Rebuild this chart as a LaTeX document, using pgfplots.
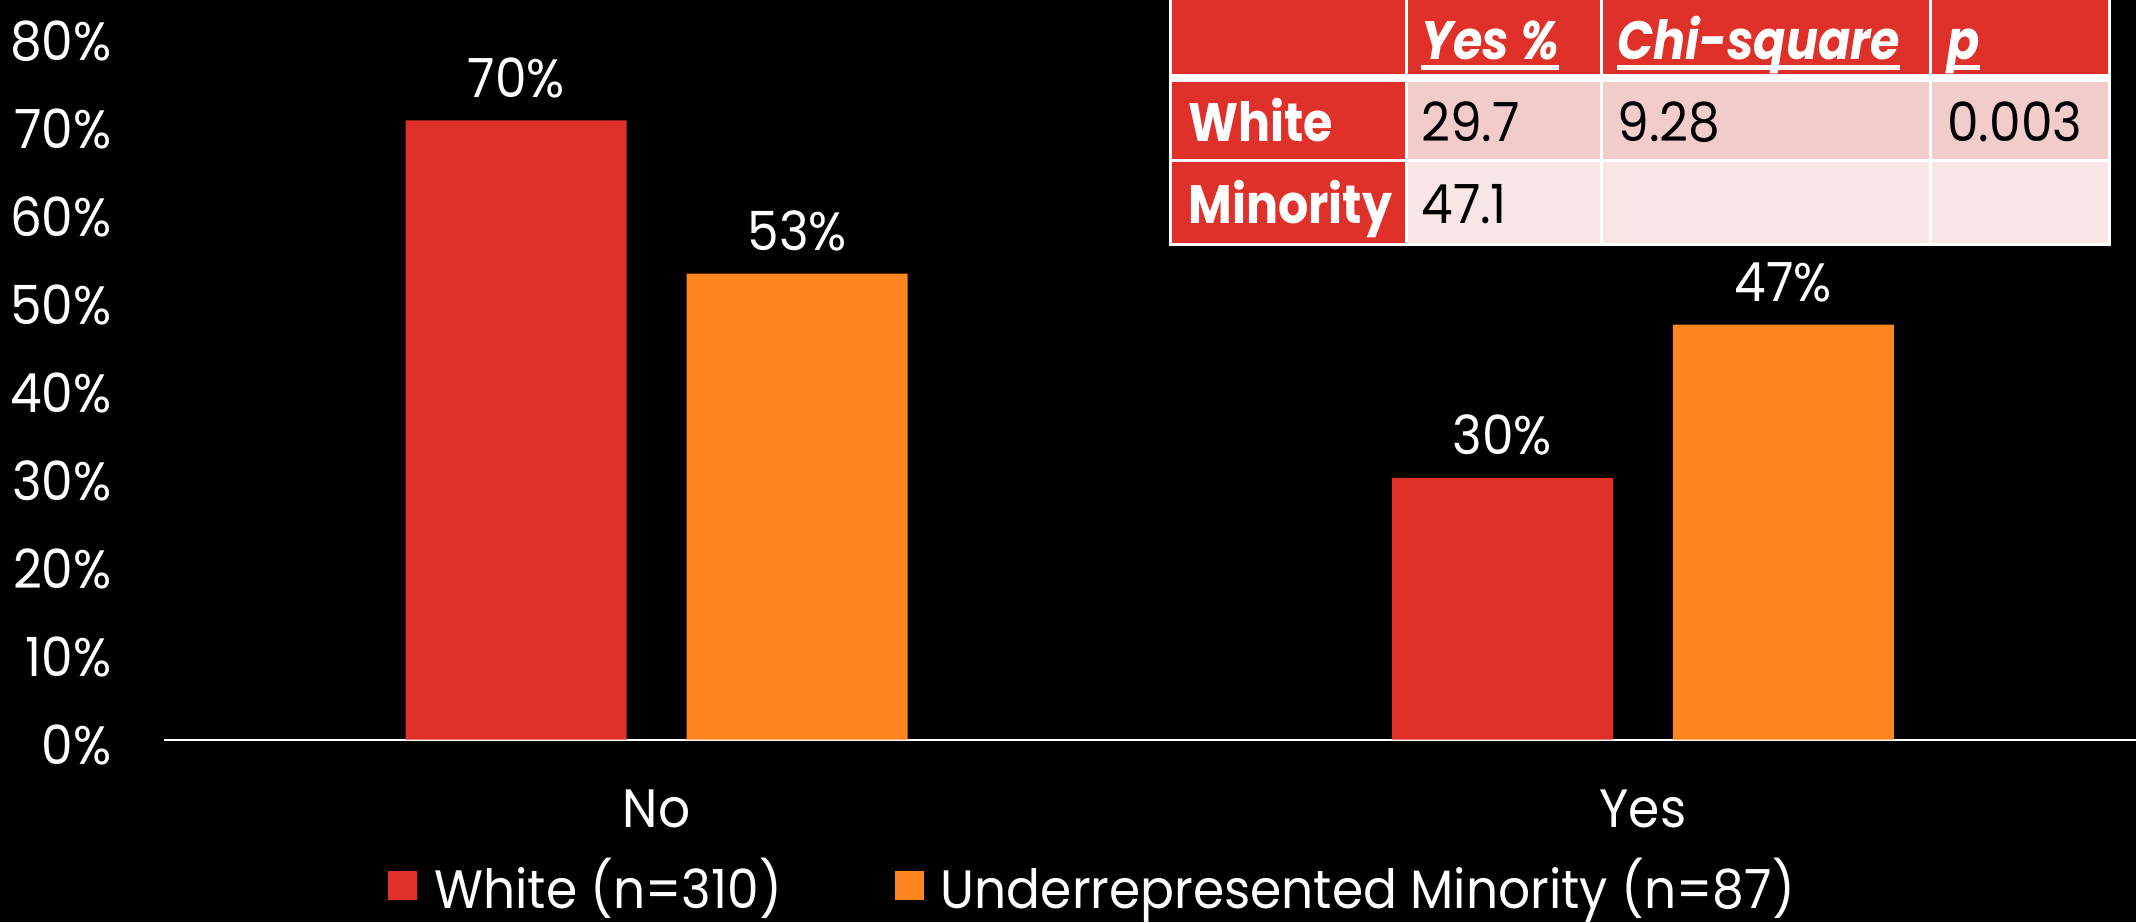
\documentclass[border=0pt]{standalone}
\usepackage{pgfplots}
\pgfplotsset{compat=1.18}
\usepackage{fontspec}
\setmainfont{Poppins}[FakeStretch=0.93, BoldFeatures={FakeStretch=0.88}, BoldItalicFeatures={FakeStretch=0.88}]
\definecolor{cred}{HTML}{E0302A}
\definecolor{corange}{HTML}{FF851F}
\definecolor{pinkA}{HTML}{F2CBCB}
\definecolor{pinkB}{HTML}{F8E6E6}
\newcommand\chartfont{\fontsize{27}{32}\selectfont}
\newcommand\hul[1]{\leavevmode\setbox0\hbox{#1}\rlap{\rule[-5pt]{\wd0}{2.5pt}}\box0}
\pgfplotsset{sqlegend/.style={legend image code/.code={\fill[##1,draw=none] (0pt,-7.25pt) rectangle (14.5pt,7.25pt);}}}
\begin{document}
\begin{tikzpicture}
\useasboundingbox (0,0) rectangle (1068pt,461pt);
\fill[black] (0,0) rectangle (1068pt,461pt);
\begin{axis}[
  at={(81.75pt,91.2pt)}, anchor=south west,
  scale only axis, width=986.25pt, height=352.4pt,
  xmin=-0.5, xmax=1.5, ymin=0, ymax=80,
  ybar=30pt, bar width=110.5pt,
  axis x line*=bottom, axis y line*=left,
  x axis line style={white, line width=1pt, -},
  y axis line style={draw=none},
  major tick length=0pt, tick style={draw=none},
  xtick={0,1}, xticklabels={No,Yes},
  ytick={0,10,...,80},
  yticklabel={\pgfmathprintnumber{\tick}\%},
  /pgf/number format/assume math mode=true,
  ticklabel style={font=\chartfont, text=white, inner sep=0pt},
  xticklabel style={anchor=base, yshift=-43.7pt},
  yticklabel style={anchor=base east, xshift=-25.75pt, yshift=-12.6pt},
  nodes near coords={\pgfmathprintnumber[fixed,precision=0]{\pgfplotspointmeta}\%},
  nodes near coords style={font=\chartfont, text=white, inner sep=0pt, anchor=base, yshift=11.5pt},
  legend columns=2,
  legend style={at={(0.1138,-0.2065)}, anchor=west, draw=none, fill=none, text=white, font=\chartfont, inner sep=0pt, nodes={inner sep=0pt}, /tikz/every odd column/.append style={column sep=8.5pt}, /tikz/every even column/.append style={column sep=56.5pt}},
  clip=false,
]
\addplot[fill=cred, draw=none, sqlegend] coordinates {(0,70.3) (1,29.7)};
\addplot[fill=corange, draw=none, sqlegend] coordinates {(0,52.9) (1,47.1)};
\addlegendentry{White (n=310)}
\addlegendentry{Underrepresented Minority (n=87)}
\end{axis}
\begin{scope}[x=0.5pt, y=-0.5pt, shift={(0pt,461pt)}]
\fill[white] (1169,-5) rectangle (2111,246);
\fill[cred] (1172,-5) rectangle (1405,74);
\fill[cred] (1408,-5) rectangle (1600,74);
\fill[cred] (1603,-5) rectangle (1929,74);
\fill[cred] (1932,-5) rectangle (2108,74);
\fill[cred] (1172,82) rectangle (1405,159);
\fill[pinkA] (1408,82) rectangle (1600,159);
\fill[pinkA] (1603,82) rectangle (1929,159);
\fill[pinkA] (1932,82) rectangle (2108,159);
\fill[cred] (1172,162) rectangle (1405,243);
\fill[pinkB] (1408,162) rectangle (1600,243);
\fill[pinkB] (1603,162) rectangle (1929,243);
\fill[pinkB] (1932,162) rectangle (2108,243);
\begin{scope}[every node/.style={anchor=base west, inner sep=0pt, font=\chartfont}]
\node[text=white, font=\chartfont\bfseries\itshape] at (1421,60) {\hul{Yes \%}};
\node[text=white, font=\chartfont\bfseries\itshape] at (1617,60) {\hul{Chi-square}};
\node[text=white, font=\chartfont\bfseries\itshape] at (1947,60) {\hul{p}};
\node[text=white, font=\chartfont\bfseries] at (1188,142) {White};
\node[text=black] at (1421,142) {29.7};
\node[text=black] at (1617,142) {9.28};
\node[text=black] at (1947,142) {0.003};
\node[text=white, font=\chartfont\bfseries] at (1188,224) {Minority};
\node[text=black] at (1421,224) {47.1};
\end{scope}
\end{scope}
\end{tikzpicture}
\end{document}
